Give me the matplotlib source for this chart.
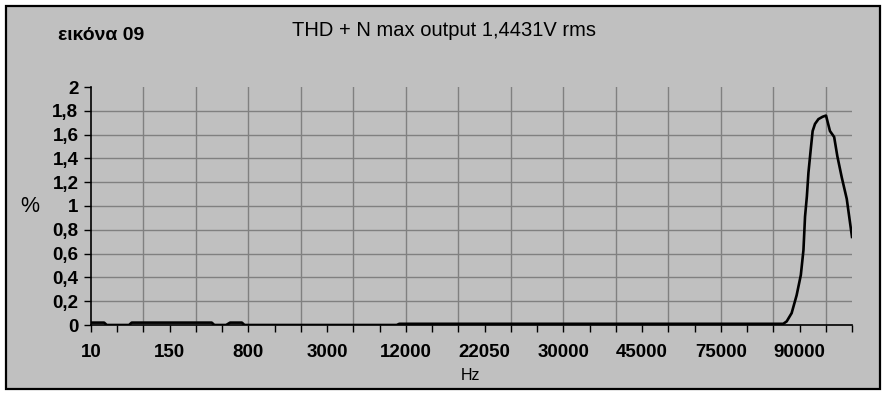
import matplotlib
matplotlib.use("Agg")
import matplotlib.pyplot as plt
from matplotlib.patches import Rectangle

plt.rcParams['font.family'] = ['Liberation Sans', 'DejaVu Sans']

# category axis: one unit = one tick step, labels every 3 steps
freq_labels = ['10', '150', '800', '3000', '12000', '22050', '30000', '45000', '75000', '90000']
n_steps = 29

# curve (position on category axis, THD+N in %)
pos = [0.0, 0.5, 0.6, 1.45, 1.55, 4.6, 4.7, 5.15, 5.3, 5.75, 5.85, 11.65, 11.75,
       26.38, 26.51, 26.70, 26.89, 27.05, 27.15, 27.21, 27.28, 27.34, 27.43, 27.50,
       27.59, 27.72, 27.88, 28.01, 28.16, 28.32, 28.44, 28.61, 28.80, 29.0]
thd = [0.02, 0.02, 0.0, 0.0, 0.02, 0.02, 0.0, 0.0, 0.02, 0.02, 0.0, 0.0, 0.01,
       0.01, 0.03, 0.10, 0.25, 0.42, 0.63, 0.91, 1.08, 1.28, 1.48, 1.63,
       1.69, 1.73, 1.75, 1.76, 1.63, 1.58, 1.42, 1.24, 1.06, 0.74]

bg = '#c0c0c0'
fig = plt.figure(figsize=(8.87, 3.95), dpi=100)
fig.patch.set_facecolor('white')
fig.patches.append(Rectangle((6 / 887, 1 - 389 / 395), 874 / 887, 383 / 395,
                             transform=fig.transFigure, facecolor=bg,
                             edgecolor='black', linewidth=1.6, zorder=-5))

ax = fig.add_axes([91 / 887, 70 / 395, 761 / 887, 238 / 395])
ax.set_facecolor(bg)
ax.plot(pos, thd, color='black', linewidth=1.9, solid_joinstyle='round', zorder=3)

ax.set_xlim(0, n_steps)
ax.set_ylim(0, 2)
ax.xaxis.remove_overlapping_locs = False
ax.set_xticks(range(n_steps + 1))
ax.set_xticklabels([freq_labels[i // 3] if i % 3 == 0 and i // 3 < len(freq_labels) else ''
                    for i in range(n_steps + 1)])
ax.set_xticks(range(2, n_steps, 2), minor=True)
yt = [i / 5 for i in range(11)]
ax.set_yticks(yt)
ax.set_yticklabels([('%g' % v).replace('.', ',') for v in yt])

ax.tick_params(axis='both', which='major', direction='out', length=5, width=1,
               labelsize=13.5, colors='black')
ax.tick_params(axis='x', which='major', pad=9)
ax.tick_params(axis='y', which='major', pad=4)
ax.tick_params(axis='x', which='minor', length=0)
for lab in ax.get_xticklabels() + ax.get_yticklabels():
    lab.set_fontweight('bold')

ax.grid(True, axis='x', which='minor', color='#808080', linewidth=1)
ax.grid(True, axis='y', which='major', color='#808080', linewidth=1)
ax.yaxis.get_gridlines()[-1].set_visible(False)
ax.set_axisbelow(True)
for side in ('top', 'right'):
    ax.spines[side].set_visible(False)
for side in ('left', 'bottom'):
    ax.spines[side].set_linewidth(1.2)
    ax.spines[side].set_zorder(4)

fig.text(444 / 887, 1 - 31 / 395, 'THD + N max output 1,4431V rms', ha='center', va='center', fontsize=14.5)
fig.text(101 / 887, 1 - 36 / 395, 'εικόνα 09', ha='center', va='center', fontsize=14, fontweight='bold')
fig.text(30 / 887, 1 - 207 / 395, '%', ha='center', va='center', fontsize=15.5)
fig.text(470 / 887, 1 - 376 / 395, 'Hz', ha='center', va='center', fontsize=11.5)

fig.savefig('out.png', dpi=100, facecolor=fig.get_facecolor())
